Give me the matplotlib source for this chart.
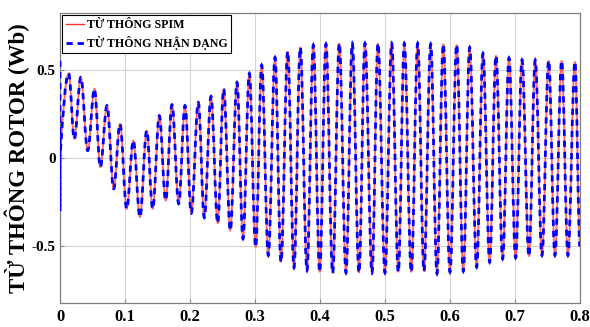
import matplotlib
matplotlib.use("Agg")
import matplotlib.pyplot as plt
from matplotlib.lines import Line2D
from matplotlib.path import Path
from matplotlib.patches import PathPatch

# extrema of the rotor flux (time [s], flux [Wb])
ext_t = [0.0, 0.0134, 0.022, 0.032, 0.0426, 0.053, 0.062, 0.0723, 0.0826, 0.0923,
         0.1026, 0.1128, 0.123, 0.1334, 0.1426, 0.1528, 0.1626, 0.1723, 0.1826, 0.1923,
         0.202, 0.2128, 0.222, 0.2323, 0.2426, 0.2518, 0.262, 0.2723, 0.2815, 0.2913,
         0.301, 0.3103, 0.3205, 0.3308, 0.34, 0.3503, 0.36, 0.3697, 0.38, 0.3897,
         0.3995, 0.4092, 0.4195, 0.4297, 0.44, 0.4497, 0.46, 0.4692, 0.48, 0.4892,
         0.5, 0.5103, 0.5205, 0.5297, 0.5405, 0.5503, 0.56, 0.5703, 0.58, 0.5897,
         0.6, 0.6103, 0.6205, 0.6303, 0.641, 0.6508, 0.661, 0.6708, 0.681, 0.6908,
         0.701, 0.7108, 0.7215, 0.7312, 0.7415, 0.7518, 0.7615, 0.7718, 0.7815, 0.7923,
         0.8]
ext_flux = [0.0, 0.479, 0.108, 0.457, 0.042, 0.391, -0.052, 0.297, -0.174, 0.193,
            -0.287, 0.099, -0.334, 0.155, -0.287, 0.240, -0.240, 0.302, -0.259, 0.297,
            -0.312, 0.315, -0.338, 0.349, -0.368, 0.391, -0.410, 0.428, -0.457, 0.479,
            -0.504, 0.526, -0.551, 0.569, -0.589, 0.603, -0.620, 0.626, -0.636, 0.639,
            -0.645, 0.645, -0.651, 0.649, -0.649, 0.649, -0.649, 0.649, -0.649, 0.649,
            -0.649, 0.649, -0.645, 0.649, -0.645, 0.649, -0.640, 0.645, -0.654, 0.645,
            -0.645, 0.641, -0.640, 0.626, -0.617, 0.592, -0.589, 0.579, -0.570, 0.566,
            -0.564, 0.555, -0.556, 0.555, -0.551, 0.551, -0.551, 0.551, -0.551, 0.545,
            -0.500]
# initial jump of the identified flux at t = 0
id_start_flux = [0.55, -0.30]

labels = ['TỪ THÔNG SPIM', 'TỪ THÔNG NHẬN DẠNG']
xticks = [0, 0.1, 0.2, 0.3, 0.4, 0.5, 0.6, 0.7, 0.8]
xticklabels = ['0', '0.1', '0.2', '0.3', '0.4', '0.5', '0.6', '0.7', '0.8']
yticks = [-0.5, 0, 0.5]
yticklabels = ['-0.5', '0', '0.5']

plt.rcParams['font.family'] = ['Liberation Serif', 'DejaVu Serif']
plt.rcParams['font.weight'] = 'bold'
plt.rcParams['lines.scale_dashes'] = False

RED = '#ff3030'
BLUE = '#0000ff'


def wave_path(ts, vs, lead=()):
    """Smooth path through the extrema (cubic segments, flat tangent at each extremum)."""
    verts, codes = [], []
    for v in lead:
        verts.append((ts[0], v))
        codes.append(Path.LINETO if codes else Path.MOVETO)
    verts.append((ts[0], vs[0]))
    codes.append(Path.LINETO if codes else Path.MOVETO)
    for i in range(1, len(ts)):
        t0, v0, t1, v1 = ts[i - 1], vs[i - 1], ts[i], vs[i]
        dt = t1 - t0
        if i == 1:   # zero crossing -> first peak
            c1 = (t0 + 0.33 * dt, v0 + 0.52 * (v1 - v0))
            c2 = (t1 - 0.36 * dt, v1)
        else:
            c1 = (t0 + 0.364 * dt, v0)
            c2 = (t1 - 0.364 * dt, v1)
        verts += [c1, c2, (t1, v1)]
        codes += [Path.CURVE4] * 3
    return Path(verts, codes)


fig = plt.figure(figsize=(5.9, 3.27), dpi=100)
ax = fig.add_axes([0.1017, 0.0734, 0.8813, 0.8866])

ax.grid(True, color='#d4d4d4', linewidth=0.8)
ax.set_axisbelow(True)

red = PathPatch(wave_path(ext_t, ext_flux), fill=False, edgecolor=RED,
                linewidth=1.3, alpha=0.75, zorder=2)
blue = PathPatch(wave_path(ext_t, ext_flux, id_start_flux), fill=False,
                 edgecolor=BLUE, linewidth=2.0, linestyle=(0, (4.5, 3.5)), zorder=3)
ax.add_patch(red)
ax.add_patch(blue)

ax.set_xlim(0, 0.8)
ax.set_ylim(-0.82, 0.82)
ax.set_xticks(xticks)
ax.set_xticklabels(xticklabels, fontsize=12, fontweight='bold')
ax.set_yticks(yticks)
ax.set_yticklabels(yticklabels, fontsize=11, fontweight='bold')
ax.tick_params(axis='x', direction='in', length=3, pad=4, color='#888888')
ax.tick_params(axis='y', direction='in', length=3, pad=3, color='#888888')
for sp in ax.spines.values():
    sp.set_color('#808080')
    sp.set_linewidth(0.9)

ax.set_ylabel('TỪ THÔNG ROTOR (Wb)', fontsize=16.5, fontweight='bold', labelpad=1)

handles = [Line2D([], [], color=RED, linewidth=1.0),
           Line2D([], [], color=BLUE, linewidth=2.0, linestyle=(0, (4.5, 3.5)))]
leg = ax.legend(handles, labels, loc='upper left', frameon=True,
                fancybox=False, framealpha=1, edgecolor='black',
                borderaxespad=0.2, borderpad=0.3, handlelength=1.5,
                handletextpad=0.25, labelspacing=0.4,
                prop={'weight': 'bold', 'size': 8.6})
leg.get_frame().set_linewidth(0.8)

fig.savefig('out.png', dpi=100)
